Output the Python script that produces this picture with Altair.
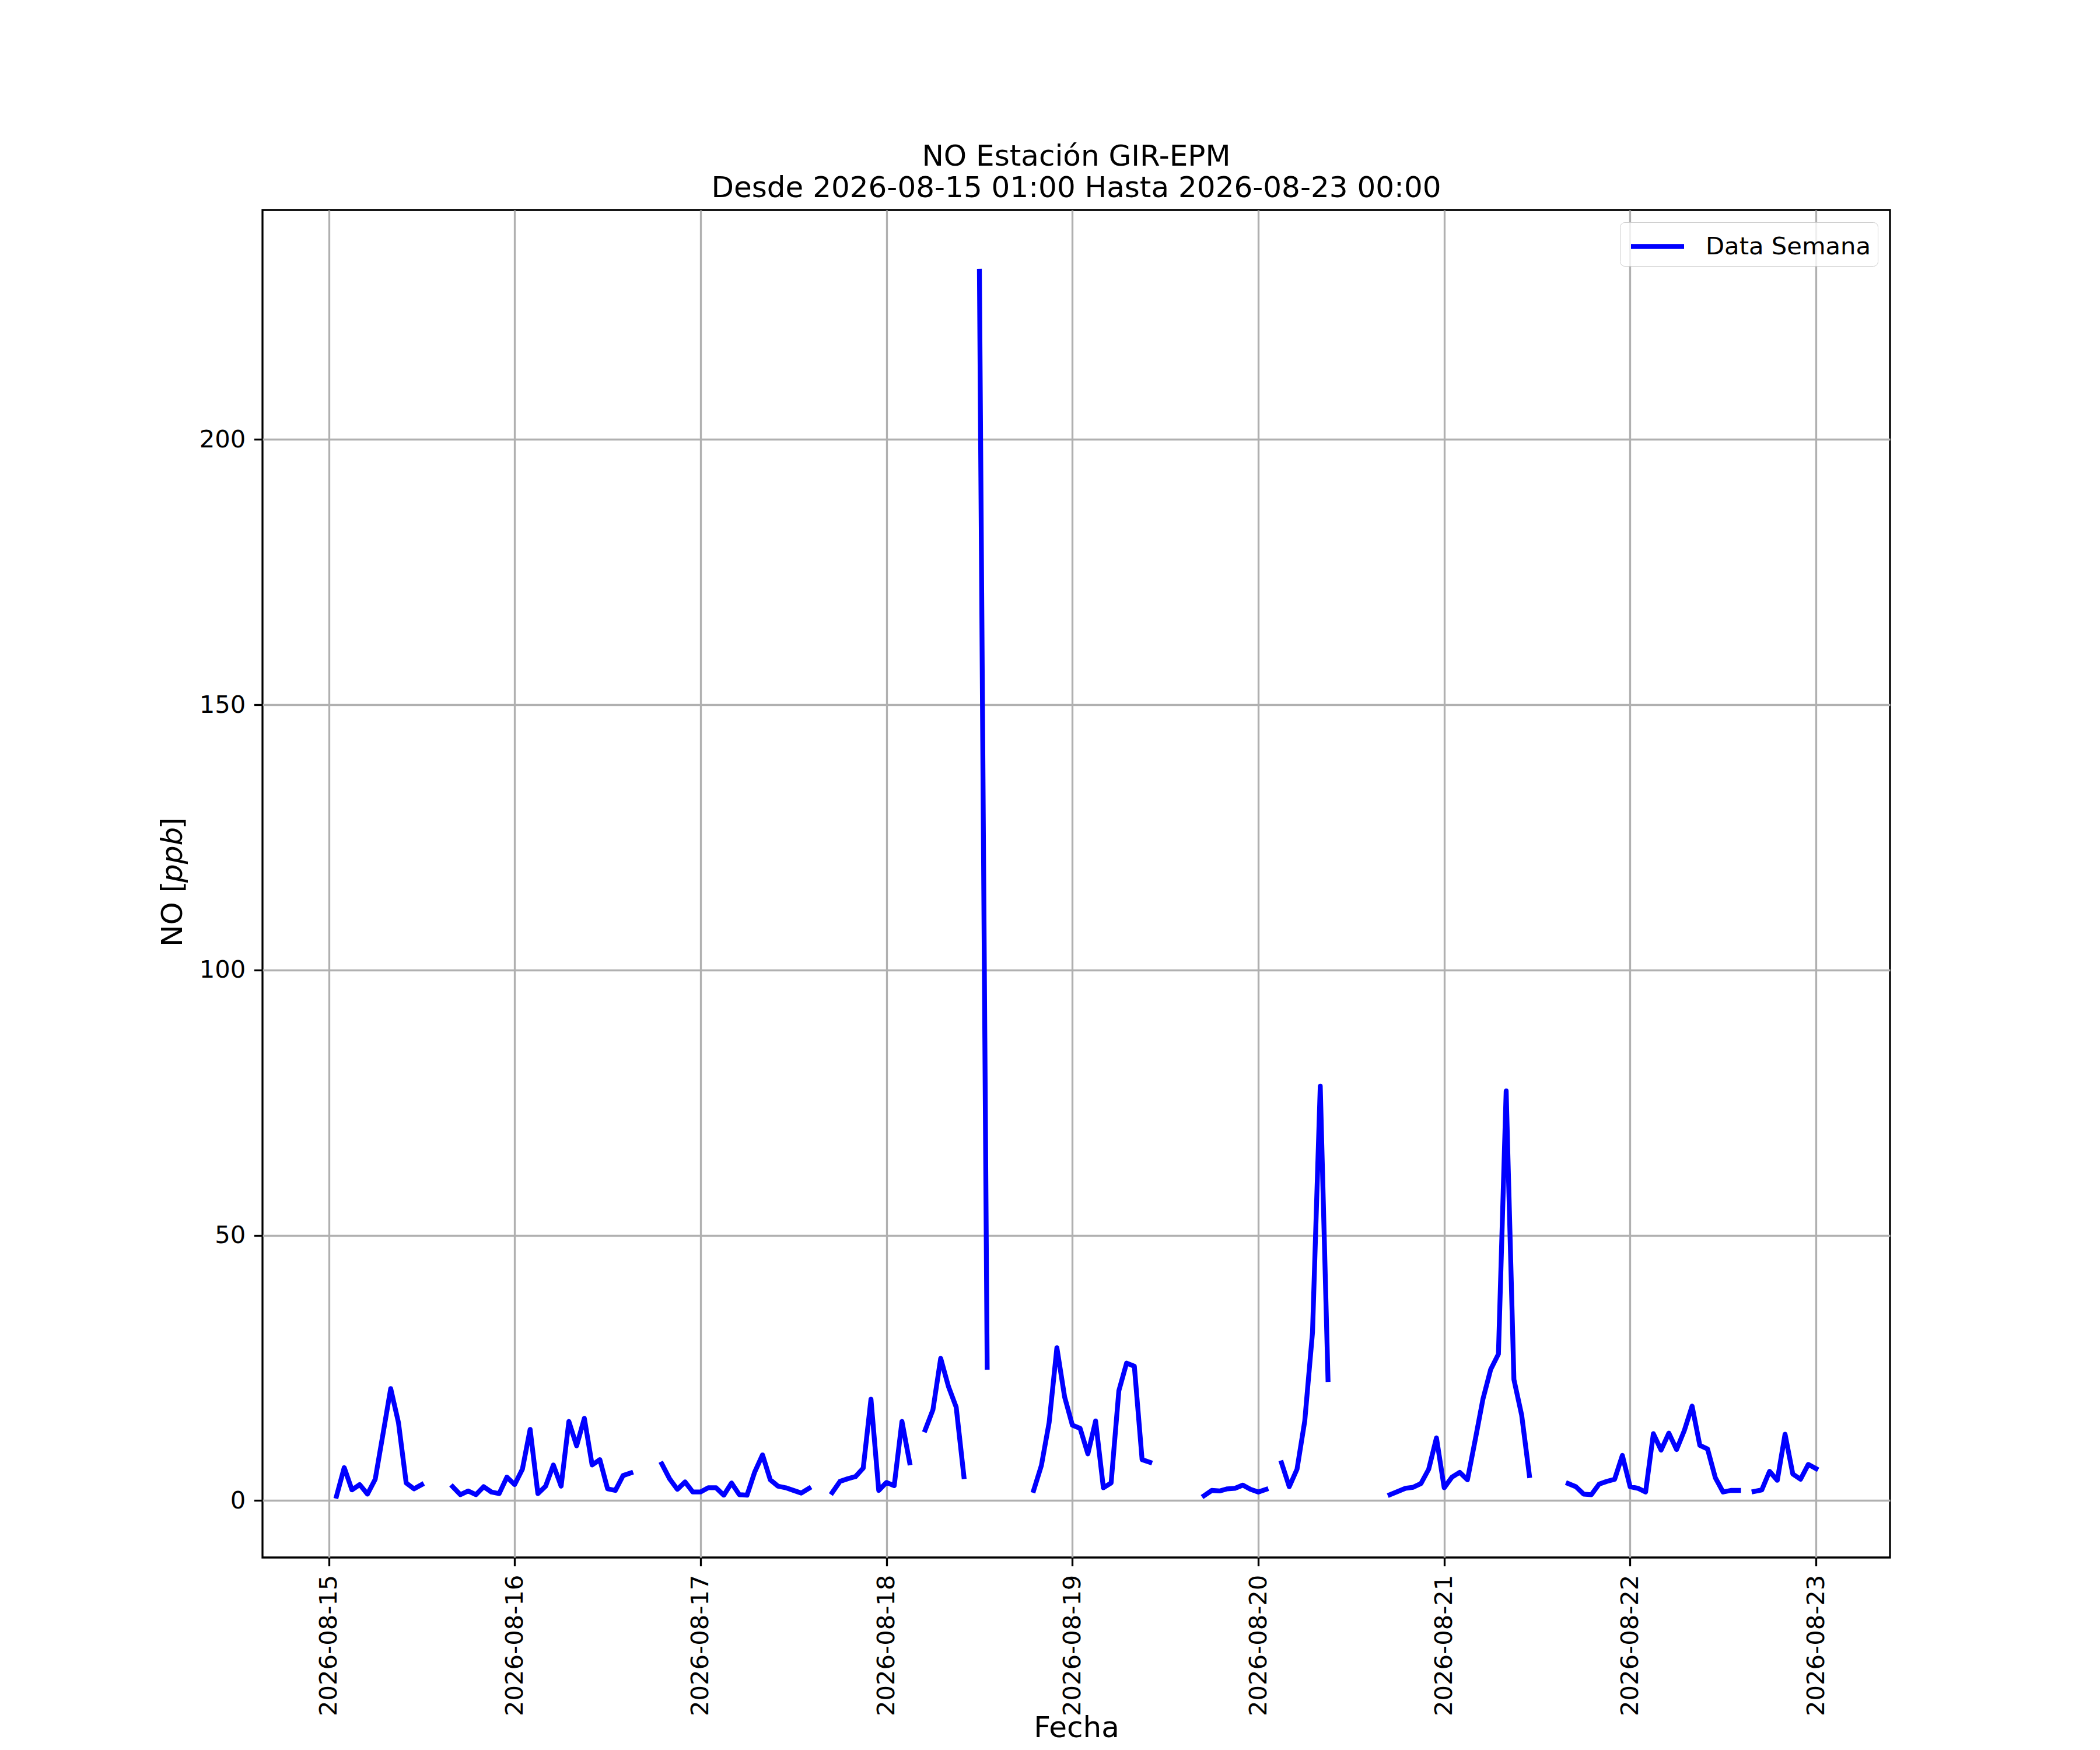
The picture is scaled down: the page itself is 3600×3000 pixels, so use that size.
import altair as alt
import pandas as pd

# ---------------- data (hourly NO, ppb; None = missing) ----------------
start_time = "2026-08-15 01:00"
no_ppb = [
    # 15 01:00 .. 16 00:00
    0.8, 6.2, 2.0, 3.0, 1.2, 4.0, 12.5, 21.1, 14.7, 3.3, 2.2, 3.0,
    None, None, None, 2.6, 1.1, 1.8, 1.1, 2.6, 1.6, 1.3, 4.4, 3.0,
    # 16 01:00 .. 17 00:00
    5.9, 13.4, 1.3, 2.7, 6.7, 2.7, 14.9, 10.3, 15.5, 6.7, 7.7, 2.2,
    1.9, 4.7, 5.2, None, None, None, 6.9, 4.1, 2.1, 3.5, 1.6, 1.6,
    # 17 01:00 .. 18 00:00
    2.4, 2.4, 1.0, 3.3, 1.1, 1.0, 5.4, 8.6, 3.9, 2.7, 2.4, 1.9,
    1.4, 2.3, None, None, 1.5, 3.6, 4.1, 4.5, 6.1, 19.1, 1.9, 3.4,
    # 18 01:00 .. 19 00:00
    2.8, 14.9, 7.1, None, 13.3, 17.1, 26.8, 21.5, 17.6, 4.5, None, 231.7,
    25.1, None, None, None, None, None, 1.9, 6.6, 14.7, 28.8, 19.5, 14.2,
    # 19 01:00 .. 20 00:00
    13.6, 8.8, 15.0, 2.4, 3.3, 20.7, 25.9, 25.3, 7.7, 7.2, None, None,
    None, None, None, None, 0.9, 1.9, 1.8, 2.2, 2.3, 2.9, 2.1, 1.6,
    # 20 01:00 .. 21 00:00
    2.1, None, 7.1, 2.6, 5.9, 15.0, 31.7, 78.1, 22.8, None, None, None,
    None, None, None, None, 1.1, 1.7, 2.3, 2.5, 3.2, 5.9, 11.8, 2.4,
    # 21 01:00 .. 22 00:00
    4.4, 5.3, 3.9, 11.4, 19.1, 24.7, 27.6, 77.2, 22.8, 16.1, 4.7, None,
    None, None, None, 3.2, 2.6, 1.2, 1.1, 3.1, 3.6, 4.0, 8.5, 2.6,
    # 22 01:00 .. 23 00:00
    2.3, 1.6, 12.6, 9.5, 12.7, 9.6, 13.2, 17.8, 10.4, 9.7, 4.3, 1.6,
    1.9, 1.9, None, 1.7, 2.0, 5.5, 3.8, 12.5, 5.0, 4.0, 6.8, 6.0,
]
series_name = "Data Semana"
tick_days = ["2026-08-15", "2026-08-16", "2026-08-17", "2026-08-18", "2026-08-19",
             "2026-08-20", "2026-08-21", "2026-08-22", "2026-08-23"]
y_ticks = [0, 50, 100, 150, 200]
title_lines = ["NO Estación GIR-EPM", "Desde 2026-08-15 01:00 Hasta 2026-08-23 00:00"]
x_title = "Fecha"
y_title_parts = ["NO [", "ppb", "]"]

# ---------------- table ----------------
times = pd.date_range(start_time, periods=len(no_ppb), freq="h")
df = pd.DataFrame({"t": times.strftime("%Y-%m-%dT%H:%M:%SZ"),
                   "v": pd.Series(no_ppb, dtype="float")})
df["seg"] = df["v"].isna().cumsum()
df = df.dropna().reset_index(drop=True)
df["serie"] = series_name

# 5 % margins like matplotlib autoscale
t0, t1 = times[0], times[-1]
pad_t = (t1 - t0) * 0.05
d0, d1 = t0 - pad_t, t1 + pad_t
vmin, vmax = df["v"].min(), df["v"].max()
pad_v = (vmax - vmin) * 0.05


def dt(ts):
    return alt.DateTime(year=ts.year, month=ts.month, date=ts.day,
                        hours=ts.hour, minutes=ts.minute, seconds=ts.second, utc=True)


tick_vals = [dt(pd.Timestamp(d)) for d in tick_days]

FONT = "DejaVu Sans"

line = alt.Chart(df).mark_line(
    strokeWidth=8.3, strokeCap="square", strokeJoin="round"
).encode(
    x=alt.X("t:T",
            scale=alt.Scale(type="utc", domain=[dt(d0), dt(d1)], nice=False),
            axis=alt.Axis(values=tick_vals, format="%Y-%m-%d", labelAngle=270,
                          labelAlign="right", labelBaseline="middle",
                          title=x_title, titleY=292, titleBaseline="middle",
                          labelOverlap=False, labelFlush=False)),
    y=alt.Y("v:Q",
            scale=alt.Scale(domain=[vmin - pad_v, vmax + pad_v], nice=False, zero=False),
            axis=alt.Axis(values=y_ticks, title=None, labelOverlap=False)),
    detail="seg:N",
    color=alt.Color("serie:N",
                    scale=alt.Scale(domain=[series_name], range=["#0000ff"]),
                    legend=alt.Legend(title=None, orient="top-right", offset=21,
                                      padding=11, fillColor="rgba(255,255,255,0.8)",
                                      strokeColor="#cccccc", cornerRadius=8,
                                      symbolType="M-1.75,0H1.75", symbolSize=2704,
                                      symbolOffset=23, symbolStrokeWidth=8.3,
                                      labelFontSize=41.7, labelFont=FONT,
                                      labelColor="black", labelOffset=52,
                                      labelLimit=0)),
)

# y-axis title "NO [ppb]" with italic ppb (matplotlib mathtext)
ylab_y = [1263, 1153, 1061]
ylab_style = ["normal", "italic", "normal"]
ylab_layers = []
for part, yy, st in zip(y_title_parts, ylab_y, ylab_style):
    ylab_layers.append(
        alt.Chart(pd.DataFrame({"txt": [part]})).mark_text(
            angle=270, align="left", baseline="alphabetic", fontSize=50,
            font=FONT, fontStyle=st, color="black"
        ).encode(text="txt:N", x=alt.value(-138), y=alt.value(yy))
    )

chart = alt.layer(line, *ylab_layers).properties(
    width=2790, height=2310,
    padding={"left": 442, "top": 352, "right": 352, "bottom": 322},
    autosize=alt.AutoSizeParams(type="none"),
    title=alt.TitleParams(text=title_lines, fontSize=50, font=FONT,
                          fontWeight="normal", color="black", anchor="middle",
                          lineHeight=54, offset=-28, baseline="alphabetic"),
).configure(
    background="white"
).configure_view(
    stroke="black", strokeWidth=3.3
).configure_axis(
    labelFont=FONT, labelFontSize=41.7, labelColor="black", labelLimit=0,
    titleFont=FONT, titleFontSize=50, titleColor="black", titleFontWeight="normal",
    tickColor="black", tickSize=14.6, tickWidth=3.3, labelPadding=14.6,
    domain=False, grid=True, gridColor="#b0b0b0", gridWidth=3.3, gridOpacity=1,
)

chart.save("out.html", embed_options={"renderer": "svg", "actions": False})
